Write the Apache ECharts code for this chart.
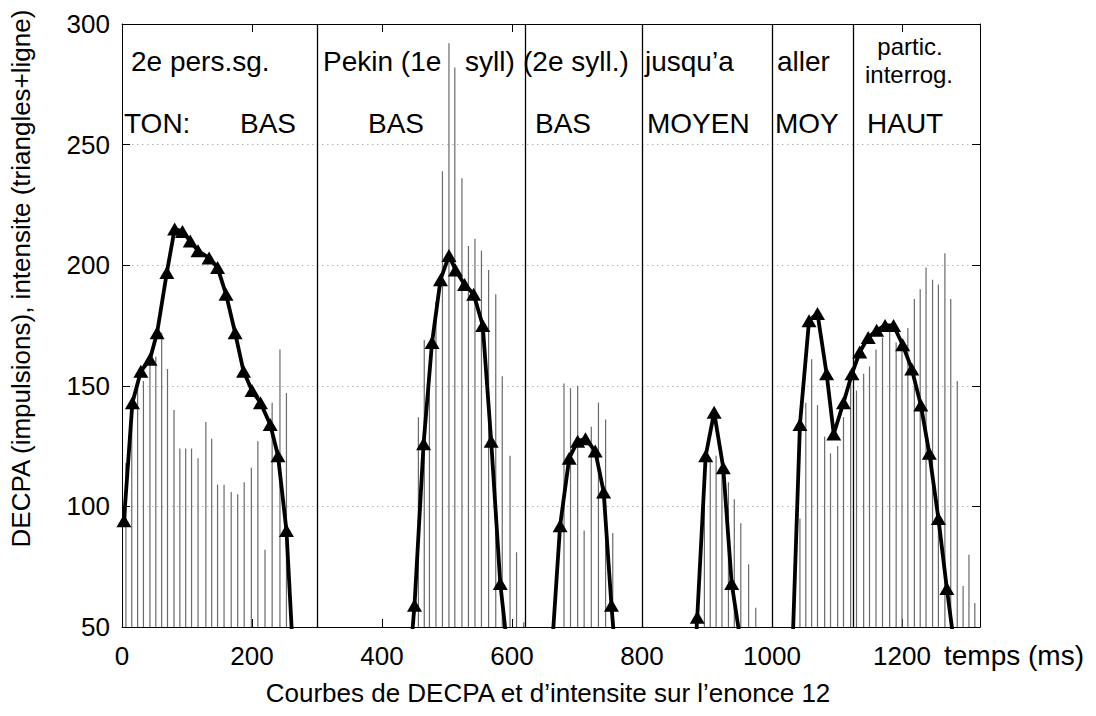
<!DOCTYPE html>
<html>
<head>
<meta charset="utf-8">
<title>Courbes de DECPA</title>
<script src="https://cdn.jsdelivr.net/npm/echarts@6/dist/echarts.min.js"></script>
<style>
html,
body {
  margin: 0;
  padding: 0;
  background: #fff;
}
#myChart {
  width: 1096px;
  height: 716px;
}
</style>
</head>
<body>
<div id="myChart"></div>
<script>
// DECPA (impulsions) : temps en ms et hauteur
const pulseTimes = [
  6, 15, 24, 33, 43, 52, 61, 70, 80, 89, 98, 107, 117, 129, 138, 147, 157, 168, 178, 188, 199, 209, 220, 231, 243, 253,
  456, 465, 473, 483, 493, 503, 512, 523, 533, 543, 553, 564, 575, 585, 597, 607, 618,
  680, 690, 701, 711, 722, 733, 744, 755,
  896, 905, 914, 923, 933, 942, 952, 964, 975,
  1043, 1052, 1061, 1070, 1081, 1090, 1101, 1110, 1121, 1130, 1141, 1150, 1160, 1170, 1181,
  1191, 1200, 1209, 1219, 1228, 1237, 1247, 1256, 1266, 1275, 1285, 1294, 1303, 1312
];
const pulseValues = [
  118, 144, 154, 152, 159, 162, 172, 157, 140, 124, 124, 124, 120, 135, 128, 109, 109, 106, 105, 110, 116, 127, 82, 143, 165, 147,
  137, 169, 160, 185, 239, 292, 282, 236, 208, 211, 206, 198, 188, 154, 121, 81, 52,
  151, 149, 150, 90, 133, 143, 136, 89,
  112, 119, 121, 115, 110, 103, 93, 76, 58,
  95, 143, 161, 142, 129, 122, 125, 137, 152, 148, 155, 158, 165, 170, 174,
  168, 165, 174, 186, 190, 199, 194, 192, 205, 186, 152, 67, 80, 60
];

// intensite (triangles + ligne)
const intensTimes = [
  3, 16, 29, 43, 54, 69, 81, 93, 105, 117, 134, 147, 160, 174, 187, 200, 213, 228, 240, 253, 267,
  436, 450, 464, 477, 490, 503, 513, 527, 541, 555, 568, 582, 595,
  660, 674, 688, 701, 713, 728, 741, 753, 766,
  873, 885, 898, 911, 925, 938, 951,
  1030, 1043, 1057, 1070, 1084, 1095, 1110, 1123, 1135, 1148, 1161, 1174, 1187, 1201, 1215, 1229, 1242, 1256, 1269, 1282
];
const intensValues = [
  94, 143, 156, 161, 172, 197, 215, 214, 210, 206, 203, 199, 188, 172, 156, 148, 143, 134, 121, 90, 19,
  13, 59, 126, 168, 194, 204, 198, 192, 188, 175, 127, 68, 36,
  35, 92, 120, 127, 128, 123, 106, 59, 15,
  0, 54, 121, 139, 116, 68, 45,
  29, 134, 177, 180, 155, 130, 143, 155, 164, 170, 173, 175, 175, 167, 157, 142, 122, 95, 66, 39
];

// limites des syllabes (ms)
const boundaries = [300, 620, 800, 1000, 1125];

// graduations
const xTicks = [0, 200, 400, 600, 800, 1000, 1200];
const yTicks = [50, 100, 150, 200, 250, 300];
const xMax = 1320;

// textes du haut
const wordLabels = ["2e pers.sg.", "Pekin (1e", "syll)", "(2e syll.)", "jusqu\u2019a", "aller", "partic.", "interrog."];
const toneLabels = ["TON:", "BAS", "BAS", "BAS", "MOYEN", "MOY", "HAUT"];

const FONT = "'Liberation Sans', Arial, Helvetica, sans-serif";

let pulses = pulseTimes.map((t, i) => [t, pulseValues[i]]);
let intens = intensTimes.map((t, i) => [t, intensValues[i]]);

// position des textes en pixels : [x, haut, alignement, taille]
const wordPos = [[131, 47, "left", 28], [323, 47, "left", 28], [465, 47, "left", 28],
  [523, 47, "left", 28], [645, 47, "left", 28], [777, 47, "left", 28],
  [910, 34, "center", 24], [909, 62, "center", 24]];
const tonePos = [[124, 109], [240, 109], [368, 109], [535, 109], [647, 109], [775, 109], [867, 109]];

let graphics = [];
wordLabels.forEach((txt, i) => {
  let p = wordPos[i];
  graphics.push({
    type: "text",
    x: p[0],
    y: p[1],
    style: {
      text: txt,
      font: p[3] + "px " + FONT,
      fill: "#000",
      align: p[2],
      verticalAlign: "top"
    }
  });
});
toneLabels.forEach((txt, i) => {
  graphics.push({
    type: "text",
    x: tonePos[i][0],
    y: tonePos[i][1],
    style: {
      text: txt,
      font: "28px " + FONT,
      fill: "#000",
      align: "left",
      verticalAlign: "top"
    }
  });
});

let myChart = echarts.init(document.getElementById("myChart"), null, { renderer: "svg" });
myChart.setOption({
  animation: false,
  backgroundColor: "#fff",
  title: {
    text: "Courbes de DECPA et d\u2019intensite sur l\u2019enonce 12",
    left: "center",
    top: 680,
    padding: 0,
    textStyle: {
      fontFamily: FONT,
      fontSize: 26,
      fontWeight: "normal",
      color: "#000"
    }
  },
  grid: {
    left: 122,
    right: 116,
    top: 24,
    bottom: 89,
    containLabel: false,
    outerBoundsMode: "none"
  },
  xAxis: [
    {
      type: "value",
      position: "bottom",
      min: xTicks[0],
      max: xMax,
      interval: xTicks[1] - xTicks[0],
      name: "temps (ms)",
      nameLocation: "end",
      nameGap: -36,
      nameTextStyle: {
        fontFamily: FONT,
        fontSize: 28,
        color: "#000",
        align: "left",
        verticalAlign: "top",
        padding: [14, 0, 0, 0]
      },
      axisLine: { show: true, onZero: false, lineStyle: { color: "#000", width: 1 } },
      axisTick: { show: true, inside: true, length: 8, lineStyle: { color: "#000" } },
      axisLabel: {
        fontFamily: FONT,
        fontSize: 26,
        color: "#000",
        margin: 16,
        showMaxLabel: false,
        formatter: v => (xTicks.indexOf(v) >= 0 ? String(v) : "")
      },
      splitLine: { show: false }
    },
    {
      type: "value",
      position: "top",
      min: xTicks[0],
      max: xMax,
      interval: xTicks[1] - xTicks[0],
      axisLine: { show: true, onZero: false, lineStyle: { color: "#000", width: 1 } },
      axisTick: { show: true, inside: true, length: 8, lineStyle: { color: "#000" } },
      axisLabel: { show: false },
      splitLine: { show: false }
    }
  ],
  yAxis: [
    {
      type: "value",
      position: "left",
      min: yTicks[0],
      max: yTicks[yTicks.length - 1],
      interval: yTicks[1] - yTicks[0],
      name: "DECPA (impulsions), intensite (triangles+ligne)",
      nameLocation: "middle",
      nameRotate: 90,
      nameGap: 88,
      nameTextStyle: {
        fontFamily: FONT,
        fontSize: 26,
        color: "#000",
        padding: [0, 0, 0, 94]
      },
      axisLine: { show: true, onZero: false, lineStyle: { color: "#000", width: 1 } },
      axisTick: { show: true, inside: true, length: 8, lineStyle: { color: "#000" } },
      axisLabel: { fontFamily: FONT, fontSize: 26, color: "#000", margin: 12 },
      splitLine: { show: true, lineStyle: { color: "#b4b4b4", width: 1, type: [1.5, 3.5] } }
    },
    {
      type: "value",
      position: "right",
      min: yTicks[0],
      max: yTicks[yTicks.length - 1],
      interval: yTicks[1] - yTicks[0],
      axisLine: { show: true, onZero: false, lineStyle: { color: "#000", width: 1 } },
      axisTick: { show: true, inside: true, length: 8, lineStyle: { color: "#000" } },
      axisLabel: { show: false },
      splitLine: { show: false }
    }
  ],
  graphic: graphics,
  series: [
    {
      // impulsions DECPA
      name: "DECPA",
      type: "custom",
      xAxisIndex: 0,
      yAxisIndex: 0,
      clip: true,
      z: 1,
      renderItem: function (params, api) {
        let top = api.coord([api.value(0), api.value(1)]);
        let base = api.coord([api.value(0), yTicks[0]]);
        return {
          type: "line",
          shape: { x1: top[0], y1: base[1], x2: top[0], y2: top[1] },
          style: { stroke: "#6a6a6a", lineWidth: 1.2 }
        };
      },
      encode: { x: 0, y: 1 },
      data: pulses,
      markLine: {
        silent: true,
        symbol: "none",
        label: { show: false },
        lineStyle: { color: "#000", width: 1.3, type: "solid" },
        data: boundaries.map(b => ({ xAxis: b }))
      }
    },
    {
      // intensite
      name: "intensite",
      type: "line",
      xAxisIndex: 0,
      yAxisIndex: 0,
      clip: true,
      z: 3,
      data: intens,
      symbol: "triangle",
      symbolSize: [15, 13],
      showAllSymbol: true,
      lineStyle: { color: "#000", width: 3.8 },
      itemStyle: { color: "#000", borderWidth: 0 }
    }
  ]
});
</script>
</body>
</html>
